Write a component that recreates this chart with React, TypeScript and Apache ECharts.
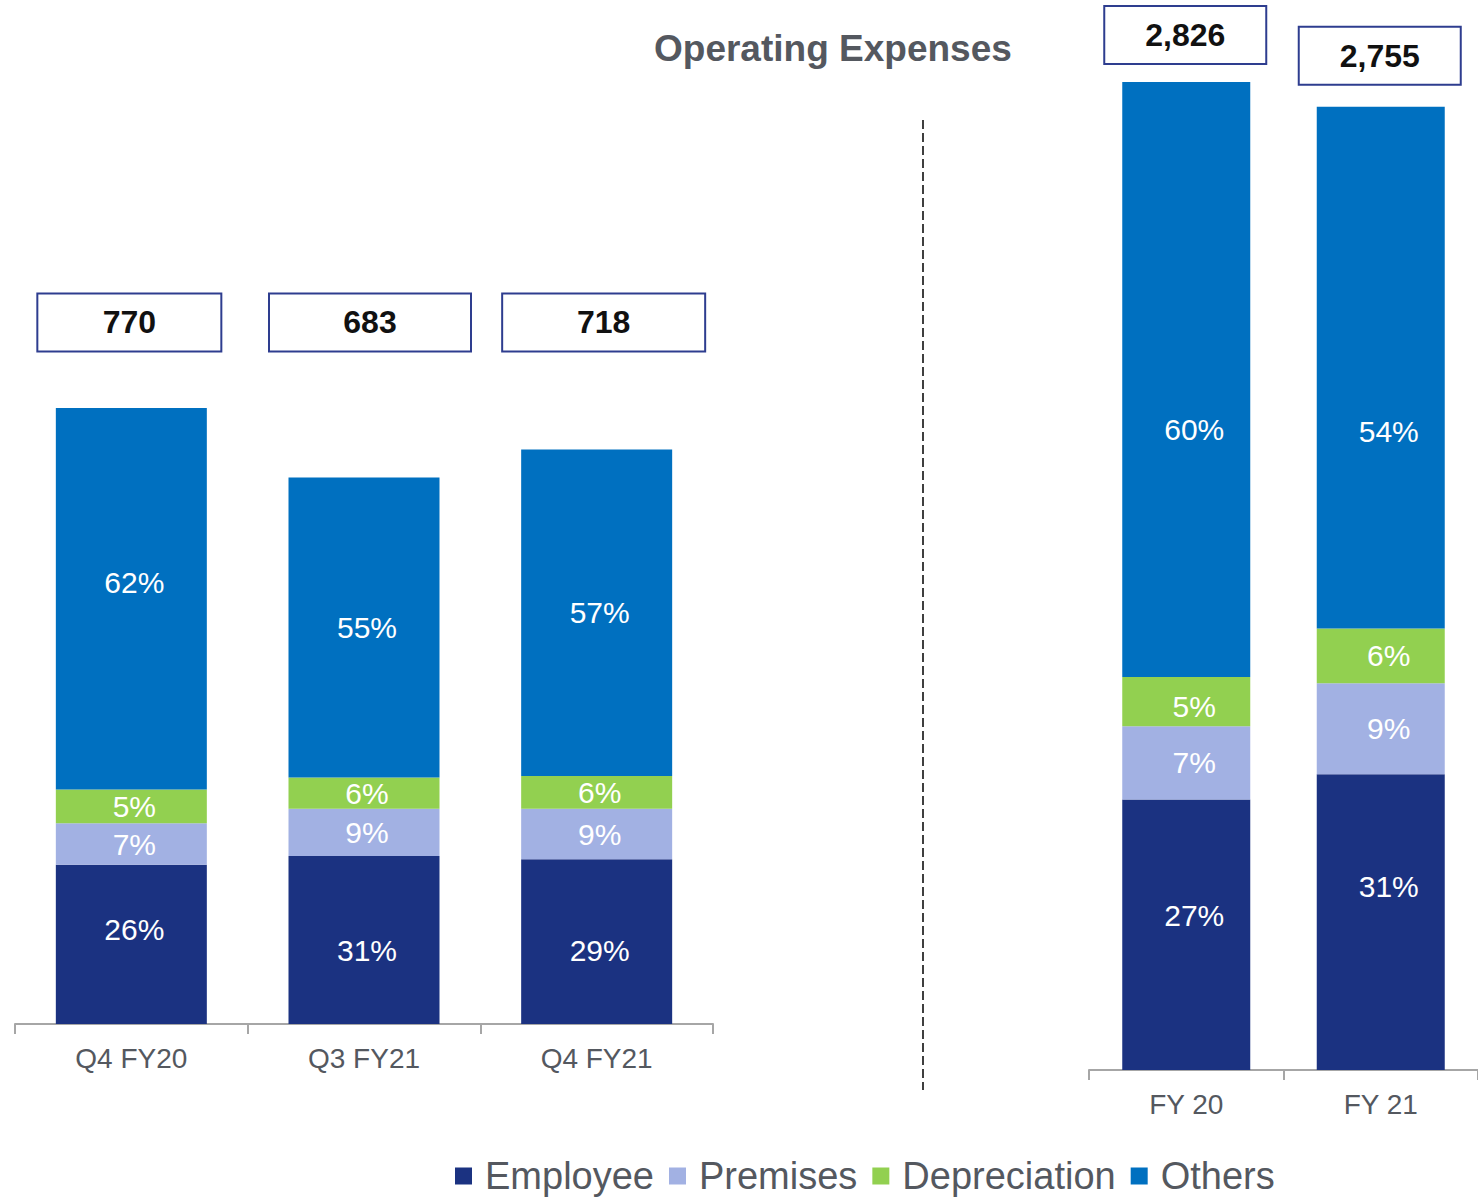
import React, { useEffect, useRef } from "react";
import * as echarts from "echarts";

// ---- Data ----
const categoriesQ = ["Q4 FY20", "Q3 FY21", "Q4 FY21"];
const categoriesFY = ["FY 20", "FY 21"];
const totalsQ = [770, 683, 718];
const totalsFY = [2826, 2755];
const employeeQ = [199, 210, 206];
const premisesQ = [52, 59, 63];
const depreciationQ = [42, 39, 41];
const othersQ = [477, 375, 408];
const employeeFY = [774, 846];
const premisesFY = [209, 260];
const depreciationFY = [141, 157];
const othersFY = [1702, 1492];
const legendNames = ["Employee", "Premises", "Depreciation", "Others"];

// ---- Styles ----
const FONT = "'Liberation Sans', Arial, Helvetica, sans-serif";
const COLORS = {
  Employee: "#1B3281",
  Premises: "#A2B1E3",
  Depreciation: "#92D050",
  Others: "#0070C0",
};
const AXIS_GREY = "#A6A6A6";
const TEXT_GREY = "#54585F";
const BOX_BORDER = "#2E3D8F";
// vertical nudges (px) of in-bar labels
const NUDGE: Record<string, number[]> = {
  EmployeeQ: [-15, 10, 9],
  OthersQ: [-16, 0, 0],
  EmployeeFY: [-19, -36],
  DepreciationFY: [5, 0],
  OthersFY: [50, 64],
};
const LABEL_DX = [3, 8];
const BOX_Y_LEFT = 877; // value-level of the left total boxes row
const BOX_W_LEFT = [182, 200, 201];
const BOX_DX_LEFT = [-2, 6, 7];
const BOX_DY_RIGHT = [-47, -51];

function segment(
  name: string,
  data: number[],
  grid: number,
  totals: number[],
  nudge?: number[]
) {
  return {
    type: "bar",
    name,
    xAxisIndex: grid,
    yAxisIndex: grid,
    stack: "s" + grid,
    barWidth: grid === 0 ? 151 : 128,
    itemStyle: { color: (COLORS as any)[name] },
    data: data.map((v, i) => ({
      value: v,
      label: { offset: [LABEL_DX[grid], nudge ? nudge[i] : 0] },
    })),
    label: {
      show: true,
      position: "inside",
      color: "#ffffff",
      fontSize: 30,
      fontFamily: FONT,
      formatter: (p: any) =>
        Math.round((p.value / totals[p.dataIndex]) * 100) + "%",
    },
    emphasis: { disabled: true },
  };
}

function boxLabel(width: number) {
  return {
    show: true,
    position: "inside",
    color: "#111111",
    fontSize: 32,
    fontWeight: "bold",
    fontFamily: FONT,
    backgroundColor: "#ffffff",
    borderColor: BOX_BORDER,
    borderWidth: 2,
    width,
    height: 56,
    lineHeight: 56,
    align: "center",
    verticalAlign: "middle",
  };
}

export default function App() {
  const ref = useRef<HTMLDivElement>(null);

  useEffect(() => {
    if (!ref.current) return;
    const chart = echarts.init(ref.current, undefined, { renderer: "svg" });

    const axisCommon = {
      type: "category",
      axisLine: { show: true, lineStyle: { color: AXIS_GREY, width: 2 } },
      axisTick: { show: true, length: 10, lineStyle: { color: AXIS_GREY, width: 2 } },
      axisLabel: { color: TEXT_GREY, fontSize: 28, fontFamily: FONT, margin: 20 },
      splitLine: { show: false },
    };

    const option: any = {
      animation: false,
      backgroundColor: "#ffffff",
      title: {
        text: "Operating Expenses",
        left: 654,
        top: 30,
        padding: 0,
        textStyle: {
          color: TEXT_GREY,
          fontSize: 37,
          fontWeight: "bold",
          fontFamily: FONT,
        },
      },
      legend: {
        data: legendNames,
        left: 455,
        top: 1157,
        padding: 0,
        icon: "rect",
        itemWidth: 17,
        itemHeight: 17,
        itemGap: 15,
        selectedMode: false,
        textStyle: {
          color: TEXT_GREY,
          fontSize: 38,
          lineHeight: 38,
          fontFamily: FONT,
          padding: [0, 0, 0, 8],
        },
      },
      grid: [
        { left: 15, width: 698, top: 224, height: 800 },
        { left: 1089, width: 392, top: 21.2, height: 1048.8 },
      ],
      xAxis: [
        { ...axisCommon, gridIndex: 0, data: categoriesQ },
        { ...axisCommon, gridIndex: 1, data: categoriesFY },
      ],
      yAxis: [
        { type: "value", gridIndex: 0, min: 0, max: 1000, show: false },
        { type: "value", gridIndex: 1, min: 0, max: 3000, show: false },
      ],
      series: [
        segment("Employee", employeeQ, 0, totalsQ, NUDGE.EmployeeQ),
        segment("Premises", premisesQ, 0, totalsQ),
        segment("Depreciation", depreciationQ, 0, totalsQ),
        segment("Others", othersQ, 0, totalsQ, NUDGE.OthersQ),
        segment("Employee", employeeFY, 1, totalsFY, NUDGE.EmployeeFY),
        segment("Premises", premisesFY, 1, totalsFY),
        segment("Depreciation", depreciationFY, 1, totalsFY, NUDGE.DepreciationFY),
        segment("Others", othersFY, 1, totalsFY, NUDGE.OthersFY),
        {
          type: "scatter",
          name: "totalQ",
          xAxisIndex: 0,
          yAxisIndex: 0,
          symbolSize: 1,
          itemStyle: { color: "rgba(0,0,0,0)", opacity: 1 },
          silent: true,
          z: 5,
          data: totalsQ.map((_, i) => ({
            value: [i, BOX_Y_LEFT],
            label: { width: BOX_W_LEFT[i], offset: [BOX_DX_LEFT[i], 0] },
          })),
          label: {
            ...boxLabel(192),
            formatter: (p: any) => totalsQ[p.dataIndex].toLocaleString("en-US"),
          },
        },
        {
          type: "scatter",
          name: "totalFY",
          xAxisIndex: 1,
          yAxisIndex: 1,
          symbolSize: 1,
          itemStyle: { color: "rgba(0,0,0,0)", opacity: 1 },
          silent: true,
          z: 5,
          data: totalsFY.map((t, i) => ({
            value: [i, t],
            label: { offset: [-1, BOX_DY_RIGHT[i]] },
          })),
          label: {
            ...boxLabel(160),
            formatter: (p: any) => totalsFY[p.dataIndex].toLocaleString("en-US"),
          },
        },
      ],
      graphic: [
        {
          type: "line",
          shape: { x1: 923, y1: 120, x2: 923, y2: 1090 },
          style: { stroke: "#000000", lineWidth: 1.5, lineDash: [9, 4] },
          silent: true,
        },
      ],
    };

    chart.setOption(option);
    return () => chart.dispose();
  }, []);

  return (
    <div
      ref={ref}
      style={{ position: "absolute", left: 0, top: 0, width: 1478, height: 1197 }}
    />
  );
}
